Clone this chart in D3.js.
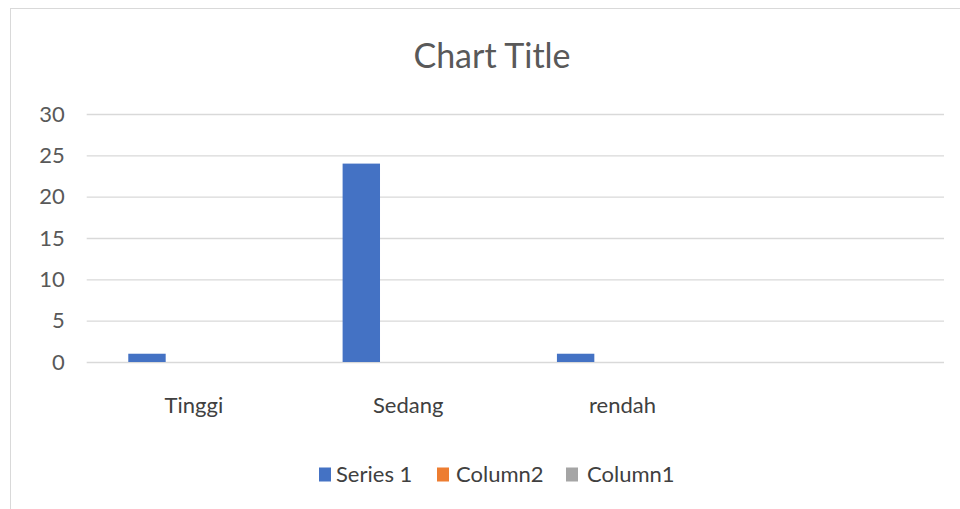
<!DOCTYPE html>
<html><head><meta charset="utf-8">
<script src="https://cdn.jsdelivr.net/npm/d3@7"></script>
<style>body{margin:0;background:#fff}svg{display:block}text{font-family:Lato,"Open Sans",sans-serif}</style>
</head><body><svg id="c" width="960" height="509"></svg>
<script>
const categories = ["Tinggi", "Sedang", "rendah", ""];
const seriesNames = ["Series 1", "Column2", "Column1"];
const series1 = [1, 24, 1, null];
const column2 = [null, null, null, null];
const column1 = [null, null, null, null];
const yTicks = [0, 5, 10, 15, 20, 25, 30];
const colors = ["#4472C4", "#ED7D31", "#A5A5A5"];

const svg = d3.select("#c");
svg.append("rect").attr("x", 10.5).attr("y", 8.5).attr("width", 960).attr("height", 520)
  .attr("fill", "#fff").attr("stroke", "#d9d9d9");

const pLeft = 86.7, pRight = 944, pTop = 114, pBottom = 362;
const x = d3.scaleBand().domain(categories).range([pLeft, pRight]).padding(0);
const y = d3.scaleLinear().domain([0, 30]).range([pBottom, pTop]);
const bw = x.bandwidth();
const x1 = d3.scaleBand().domain(seriesNames).range([0.194 * bw, 0.194 * bw + 3 * 0.1745 * bw]).padding(0);

svg.append("text").attr("x", 492).attr("y", 68).attr("text-anchor", "middle")
  .attr("fill", "#595959").attr("font-size", 34).text("Chart Title");

const g = svg.append("g");
const yAxis = d3.axisLeft(y).tickValues(yTicks).tickSize(-(pRight - pLeft)).tickPadding(22);
const ga = g.append("g").attr("transform", `translate(${pLeft},0)`).call(yAxis);
ga.select(".domain").remove();
ga.selectAll(".tick line").attr("stroke", "#d9d9d9").attr("stroke-width", 1.3);
ga.selectAll(".tick text").attr("fill", "#595959").attr("font-size", 22).attr("font-family", "Lato");

const data = [series1, column2, column1];
data.forEach((vals, si) => {
  g.append("g").selectAll("rect").data(vals.map((v, i) => ({v, c: categories[i]})).filter(d => d.v != null))
    .join("rect")
    .attr("x", d => x(d.c) + x1(seriesNames[si]))
    .attr("width", x1.bandwidth())
    .attr("y", d => y(d.v))
    .attr("height", d => y(0) - y(d.v))
    .attr("fill", colors[si]);
});

const xAxis = d3.axisBottom(x).tickSize(0).tickPadding(35);
const gx = g.append("g").attr("transform", `translate(0,${pBottom})`).call(xAxis);
gx.select(".domain").remove();
gx.selectAll(".tick text").attr("fill", "#404040").attr("font-size", 22).attr("font-family", "Lato");

const legendX = [319, 437, 566];
const legendTextX = [336, 456, 587];
const lg = svg.append("g");
seriesNames.forEach((n, i) => {
  lg.append("rect").attr("x", legendX[i]).attr("y", 467.5).attr("width", 12).attr("height", 14).attr("fill", colors[i]);
  lg.append("text").attr("x", legendTextX[i]).attr("y", 482).attr("fill", "#404040").attr("font-size", 22).text(n);
});
</script></body></html>
